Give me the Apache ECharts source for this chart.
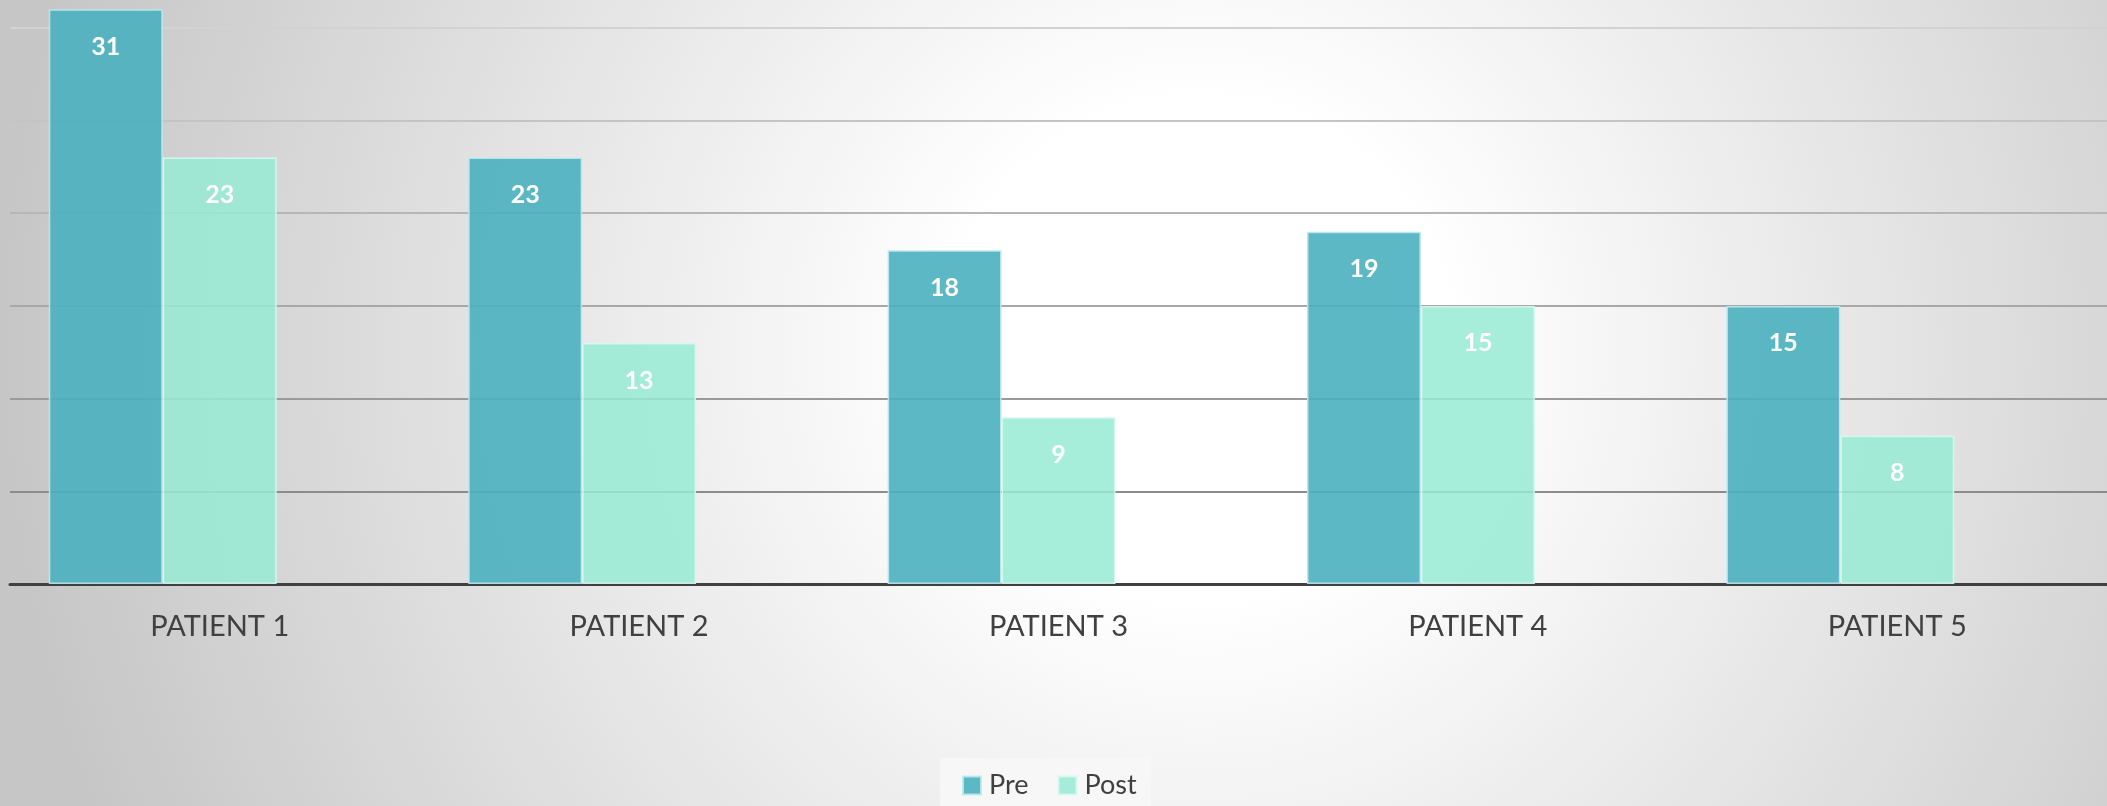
<!DOCTYPE html>
<html>
<head>
<meta charset="utf-8">
<script src="https://cdn.jsdelivr.net/npm/echarts@6/dist/echarts.min.js"></script>
<style>
html,body{margin:0;padding:0;}
#chart{width:2107px;height:806px;background:radial-gradient(circle at 1200px 350px,#ffffff 0px,#ffffff 250px,#c6c6c6 1200px);}
</style>
</head>
<body>
<div id="chart"></div>
<script>
const categories = ['PATIENT 1', 'PATIENT 2', 'PATIENT 3', 'PATIENT 4', 'PATIENT 5'];
const preValues = [31, 23, 18, 19, 15];
const postValues = [23, 13, 9, 15, 8];
const emptyValues = [null, null, null, null, null];
const seriesNames = ['Pre', 'Post'];

const chart = echarts.init(document.getElementById('chart'), null, {renderer: 'canvas'});
const labelStyle = {
  show: true, position: 'insideTop', distance: 25,
  color: '#ffffff', fontFamily: 'Lato', fontWeight: 'bold', fontSize: 25
};
chart.setOption({
  backgroundColor: 'transparent',
  animation: false,
  legend: {
    data: seriesNames,
    left: 940, top: 758,
    orient: 'horizontal',
    itemWidth: 18, itemHeight: 18, itemGap: 29,
    icon: 'rect',
    padding: [14, 14, 14, 22],
    backgroundColor: '#f7f7f7',
    textStyle: {color: '#404040', fontFamily: 'Lato', fontSize: 27, padding: [0, 0, 0, 3]}
  },
  grid: {left: 10, width: 2100, top: 0, bottom: 222, containLabel: false},
  xAxis: {
    type: 'category',
    data: categories,
    axisLine: {show: true, lineStyle: {color: '#404040', width: 3}},
    axisTick: {show: false},
    axisLabel: {color: '#404040', fontFamily: 'Lato', fontSize: 29, margin: 28}
  },
  yAxis: {
    type: 'value', min: 0, max: 31.5, interval: 5,
    axisLabel: {show: false},
    axisLine: {show: false},
    axisTick: {show: false},
    splitLine: {show: true, lineStyle: {width: 2, color: ['#888888', '#8c8c8c', '#9a9a9a', '#a8a8a8', '#b6b6b6', '#c4c4c4', '#d2d2d2', 'rgba(0,0,0,0)']}}
  },
  series: [
    {
      name: 'Pre', type: 'bar', data: preValues,
      barGap: '0%', barCategoryGap: '18.5%',
      itemStyle: {color: 'rgba(75,176,192,0.9)', borderColor: 'rgba(190,232,238,0.9)', borderWidth: 1.5},
      label: labelStyle
    },
    {
      name: 'Post', type: 'bar', data: postValues,
      barGap: '0%', barCategoryGap: '18.5%',
      itemStyle: {color: 'rgba(150,234,212,0.85)', borderColor: 'rgba(215,248,238,0.9)', borderWidth: 1.5},
      label: labelStyle
    },
    {
      name: 'Series3', type: 'bar', data: emptyValues,
      barGap: '0%', barCategoryGap: '18.5%'
    }
  ]
});
</script>
</body>
</html>
